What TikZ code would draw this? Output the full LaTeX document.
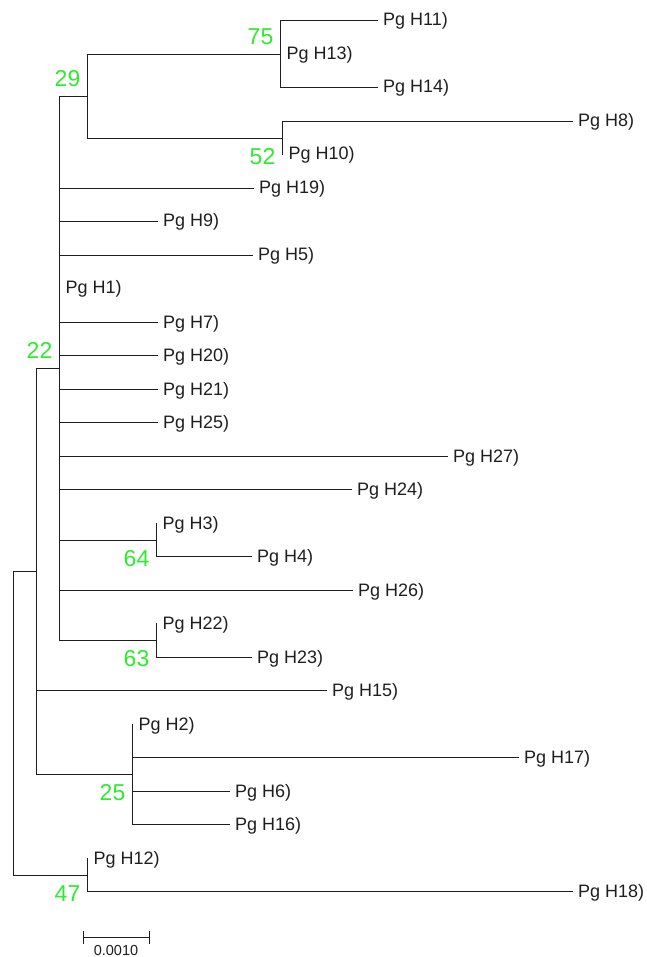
\documentclass[tikz,border=0pt]{standalone}
\usepackage{fontspec}
\setmainfont{Liberation Sans}
\definecolor{bootgreen}{RGB}{45,235,45}
\definecolor{ink}{RGB}{30,30,30}
\begin{document}
\begin{tikzpicture}[x=1pt,y=-1pt,
  br/.style={line width=1.25pt, draw=ink, line cap=rect},
  leaf/.style={anchor=base west, inner sep=0pt, xshift=6pt, yshift=-5.5pt,
    font=\fontsize{18}{20}\selectfont, text=ink},
  bootup/.style={anchor=base east, inner sep=0pt, xshift=-7pt, yshift=10pt,
    font=\fontsize{23}{25}\selectfont, text=bootgreen},
  bootdn/.style={anchor=base east, inner sep=0pt, xshift=-7pt, yshift=-26.3pt,
    font=\fontsize{23}{25}\selectfont, text=bootgreen},
]
\useasboundingbox (0,0) rectangle (646,957);

% internal nodes
\coordinate (root) at (13.5,723.5);
\coordinate (nX)   at (36.5,571.5);
\coordinate (n22)  at (59.5,368.5);
\coordinate (n29)  at (87.5,96.5);
\coordinate (n75)  at (280.5,54.5);
\coordinate (n52)  at (282.5,138.5);
\coordinate (n64)  at (156.5,540.5);
\coordinate (n63)  at (156.5,640.5);
\coordinate (n25)  at (132.5,774.5);
\coordinate (n47)  at (87.5,875.5);

% tips
\coordinate (t11) at (377,20.5);
\coordinate (t13) at (280.5,54.5);
\coordinate (t14) at (377,87.5);
\coordinate (t8)  at (572,121.5);
\coordinate (t10) at (282.5,154.5);
\coordinate (t19) at (253,188.5);
\coordinate (t9)  at (157,221.5);
\coordinate (t5)  at (252,255.5);
\coordinate (t1)  at (59.5,288.5);
\coordinate (t7)  at (157,322.5);
\coordinate (t20) at (157,355.5);
\coordinate (t21) at (157,389.5);
\coordinate (t25) at (157,422.5);
\coordinate (t27) at (447,456.5);
\coordinate (t24) at (351,489.5);
\coordinate (t3)  at (156.5,523.5);
\coordinate (t4)  at (251,556.5);
\coordinate (t26) at (352,590.5);
\coordinate (t22) at (156.5,623.5);
\coordinate (t23) at (251,657.5);
\coordinate (t15) at (326,690.5);
\coordinate (t2)  at (132.5,724.5);
\coordinate (t17) at (518,757.5);
\coordinate (t6)  at (229,791.5);
\coordinate (t16) at (229,824.5);
\coordinate (t12) at (87.5,858.5);
\coordinate (t18) at (572,891.5);

% branches
\draw[br] (root) |- (nX);
\draw[br] (root) |- (n47);
\draw[br] (nX) |- (n22);
\draw[br] (nX) |- (t15);
\draw[br] (nX) |- (n25);
\draw[br] (n22) |- (n29);
\draw[br] (n22) |- (t19);
\draw[br] (n22) |- (t9);
\draw[br] (n22) |- (t5);
\draw[br] (n22) |- (t1);
\draw[br] (n22) |- (t7);
\draw[br] (n22) |- (t20);
\draw[br] (n22) |- (t21);
\draw[br] (n22) |- (t25);
\draw[br] (n22) |- (t27);
\draw[br] (n22) |- (t24);
\draw[br] (n22) |- (n64);
\draw[br] (n22) |- (t26);
\draw[br] (n22) |- (n63);
\draw[br] (n29) |- (n75);
\draw[br] (n29) |- (n52);
\draw[br] (n75) |- (t11);
\draw[br] (n75) |- (t13);
\draw[br] (n75) |- (t14);
\draw[br] (n52) |- (t8);
\draw[br] (n52) |- (t10);
\draw[br] (n64) |- (t3);
\draw[br] (n64) |- (t4);
\draw[br] (n63) |- (t22);
\draw[br] (n63) |- (t23);
\draw[br] (n25) |- (t2);
\draw[br] (n25) |- (t17);
\draw[br] (n25) |- (t6);
\draw[br] (n25) |- (t16);
\draw[br] (n47) |- (t12);
\draw[br] (n47) |- (t18);

% leaf labels
\node[leaf] (L11) at (t11) {Pg H11)};
\node[leaf] (L13) at (t13) {Pg H13)};
\node[leaf] (L14) at (t14) {Pg H14)};
\node[leaf] (L8)  at (t8)  {Pg H8)};
\node[leaf] (L10) at (t10) {Pg H10)};
\node[leaf] (L19) at (t19) {Pg H19)};
\node[leaf] (L9)  at (t9)  {Pg H9)};
\node[leaf] (L5)  at (t5)  {Pg H5)};
\node[leaf] (L1)  at (t1)  {Pg H1)};
\node[leaf] (L7)  at (t7)  {Pg H7)};
\node[leaf] (L20) at (t20) {Pg H20)};
\node[leaf] (L21) at (t21) {Pg H21)};
\node[leaf] (L25) at (t25) {Pg H25)};
\node[leaf] (L27) at (t27) {Pg H27)};
\node[leaf] (L24) at (t24) {Pg H24)};
\node[leaf] (L3)  at (t3)  {Pg H3)};
\node[leaf] (L4)  at (t4)  {Pg H4)};
\node[leaf] (L26) at (t26) {Pg H26)};
\node[leaf] (L22) at (t22) {Pg H22)};
\node[leaf] (L23) at (t23) {Pg H23)};
\node[leaf] (L15) at (t15) {Pg H15)};
\node[leaf] (L2)  at (t2)  {Pg H2)};
\node[leaf] (L17) at (t17) {Pg H17)};
\node[leaf] (L6)  at (t6)  {Pg H6)};
\node[leaf] (L16) at (t16) {Pg H16)};
\node[leaf] (L12) at (t12) {Pg H12)};
\node[leaf] (L18) at (t18) {Pg H18)};

% bootstrap values
\node[bootup] (b75) at (n75) {75};
\node[bootup] (b29) at (n29) {29};
\node[bootdn] (b52) at (n52) {52};
\node[bootup] (b22) at (n22) {22};
\node[bootdn] (b64) at (n64) {64};
\node[bootdn] (b63) at (n63) {63};
\node[bootdn] (b25) at (n25) {25};
\node[bootdn] (b47) at (n47) {47};

% scale bar
\coordinate (sbL) at (83.5,937.5);
\coordinate (sbR) at (149.5,937.5);
\draw[br] (sbL) -- (sbR);
\draw[br] ([yshift=5.5pt]sbL) -- ([yshift=-5.5pt]sbL);
\draw[br] ([yshift=5.5pt]sbR) -- ([yshift=-5.5pt]sbR);
\node[anchor=base, inner sep=0pt, font=\fontsize{14.5}{16}\selectfont, text=ink] (sbT) at (116,955.5) {0.0010};
\end{tikzpicture}
\end{document}
